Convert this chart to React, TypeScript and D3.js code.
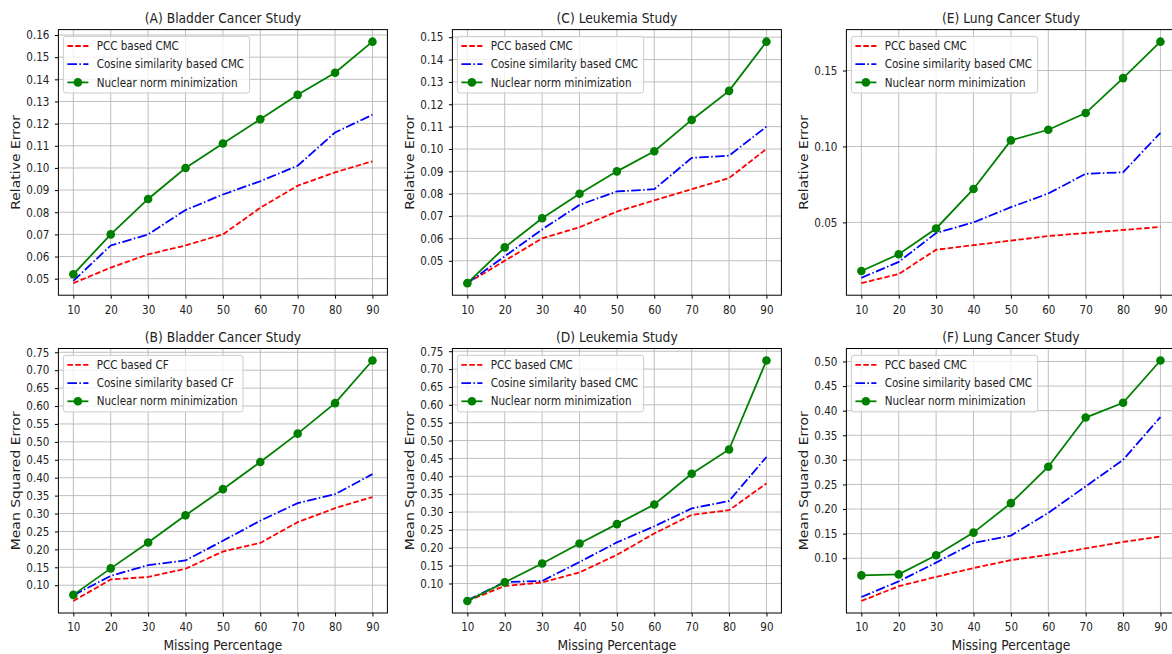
import React, { useEffect, useRef } from "react";
import * as d3 from "d3";

// x values shared by all six panels
const MISSING_PCT = [10, 20, 30, 40, 50, 60, 70, 80, 90];

// (A) Bladder cancer, relative error
const A_PCC = [0.048, 0.055, 0.061, 0.065, 0.07, 0.082, 0.092, 0.098, 0.103];
const A_COS = [0.049, 0.065, 0.07, 0.081, 0.088, 0.094, 0.101, 0.116, 0.124];
const A_NNM = [0.052, 0.07, 0.086, 0.1, 0.111, 0.122, 0.133, 0.143, 0.157];

// (C) Leukemia, relative error
const C_PCC = [0.04, 0.05, 0.06, 0.065, 0.072, 0.077, 0.082, 0.087, 0.1];
const C_COS = [0.04, 0.052, 0.064, 0.075, 0.081, 0.082, 0.096, 0.097, 0.11];
const C_NNM = [0.04, 0.056, 0.069, 0.08, 0.09, 0.099, 0.113, 0.126, 0.148];

// (E) Lung cancer, relative error
const E_PCC = [0.01, 0.016, 0.032, 0.035, 0.038, 0.041, 0.043, 0.045, 0.047];
const E_COS = [0.0135, 0.024, 0.043, 0.05, 0.06, 0.069, 0.082, 0.083, 0.109];
const E_NNM = [0.018, 0.029, 0.046, 0.072, 0.104, 0.111, 0.122, 0.145, 0.169];

// (B) Bladder cancer, mean squared error
const B_PCC = [0.056, 0.116, 0.123, 0.146, 0.194, 0.218, 0.276, 0.315, 0.346];
const B_COS = [0.072, 0.126, 0.156, 0.169, 0.224, 0.28, 0.329, 0.354, 0.41];
const B_NNM = [0.073, 0.147, 0.219, 0.295, 0.368, 0.444, 0.523, 0.608, 0.727];

// (D) Leukemia, mean squared error
const D_PCC = [0.051, 0.093, 0.103, 0.131, 0.18, 0.24, 0.292, 0.305, 0.38];
const D_COS = [0.053, 0.104, 0.107, 0.16, 0.215, 0.26, 0.31, 0.331, 0.454];
const D_NNM = [0.051, 0.103, 0.156, 0.212, 0.266, 0.321, 0.407, 0.475, 0.724];

// (F) Lung cancer, mean squared error
const F_PCC = [0.013, 0.043, 0.062, 0.08, 0.096, 0.107, 0.12, 0.133, 0.144];
const F_COS = [0.021, 0.053, 0.091, 0.131, 0.146, 0.192, 0.246, 0.3, 0.387];
const F_NNM = [0.065, 0.067, 0.106, 0.152, 0.212, 0.286, 0.386, 0.416, 0.502];

// y tick labels
const TICKS_A = [0.05, 0.06, 0.07, 0.08, 0.09, 0.1, 0.11, 0.12, 0.13, 0.14, 0.15, 0.16];
const TICKS_C = [0.05, 0.06, 0.07, 0.08, 0.09, 0.1, 0.11, 0.12, 0.13, 0.14, 0.15];
const TICKS_E = [0.05, 0.1, 0.15];
const TICKS_MSE = [0.1, 0.15, 0.2, 0.25, 0.3, 0.35, 0.4, 0.45, 0.5, 0.55, 0.6, 0.65, 0.7, 0.75];
const TICKS_F = [0.1, 0.15, 0.2, 0.25, 0.3, 0.35, 0.4, 0.45, 0.5];

const LEGEND_CMC = ["PCC based CMC", "Cosine similarity based CMC", "Nuclear norm minimization"];
const LEGEND_CF = ["PCC based CF", "Cosine similarity based CF", "Nuclear norm minimization"];

const PANELS = [
  { title: "(A) Bladder Cancer Study", row: 0, col: 0, ylabel: "Relative Error", ticks: TICKS_A, legend: LEGEND_CMC, series: [A_PCC, A_COS, A_NNM] },
  { title: "(C) Leukemia Study", row: 0, col: 1, ylabel: "Relative Error", ticks: TICKS_C, legend: LEGEND_CMC, series: [C_PCC, C_COS, C_NNM] },
  { title: "(E) Lung Cancer Study", row: 0, col: 2, ylabel: "Relative Error", ticks: TICKS_E, legend: LEGEND_CMC, series: [E_PCC, E_COS, E_NNM] },
  { title: "(B) Bladder Cancer Study", row: 1, col: 0, ylabel: "Mean Squared Error", ticks: TICKS_MSE, legend: LEGEND_CF, series: [B_PCC, B_COS, B_NNM] },
  { title: "(D) Leukemia Study", row: 1, col: 1, ylabel: "Mean Squared Error", ticks: TICKS_MSE, legend: LEGEND_CMC, series: [D_PCC, D_COS, D_NNM] },
  { title: "(F) Lung Cancer Study", row: 1, col: 2, ylabel: "Mean Squared Error", ticks: TICKS_F, legend: LEGEND_CMC, series: [F_PCC, F_COS, F_NNM] },
];

const STYLES = [
  { color: "#ff0000", dash: "5.5,2.4", marker: false },
  { color: "#0000ff", dash: "9.6,2.4,1.5,2.4", marker: false },
  { color: "#008000", dash: null, marker: true },
];

// layout
const AX_LEFT = [58.4, 452.4, 846.4];
const AX_W = 329;
const ROW_TOP = [29.6, 348.5];
const AX_H = [265.6, 264.5];
const FONT = "DejaVu Sans";
const SX = 0.88; // the source image is squeezed horizontally
const TEXT = "#222";

// matplotlib style 5% autoscale margin
const padded = (vals: number[]) => {
  const [lo, hi] = d3.extent(vals) as [number, number];
  const m = (hi - lo) * 0.05;
  return [lo - m, hi + m];
};

const drawPanel = (svg: any, p: any) => {
  const left = AX_LEFT[p.col];
  const top = ROW_TOP[p.row];
  const w = AX_W;
  const h = AX_H[p.row];

  const g = svg.append("g").attr("transform", `translate(${left},${top})`);

  const x = d3.scaleLinear().domain(padded(MISSING_PCT)).range([0, w]);
  const y = d3.scaleLinear().domain(padded(p.series.flat())).range([h, 0]);

  // grid
  const grid = g.append("g").attr("stroke", "#b8b8b8").attr("stroke-width", 0.9);
  grid
    .selectAll("line.vx")
    .data(MISSING_PCT)
    .join("line")
    .attr("x1", (d) => x(d))
    .attr("x2", (d) => x(d))
    .attr("y1", 0)
    .attr("y2", h);
  grid
    .selectAll("line.hy")
    .data(p.ticks)
    .join("line")
    .attr("x1", 0)
    .attr("x2", w)
    .attr("y1", (d) => y(d))
    .attr("y2", (d) => y(d));

  // series
  const line = d3
    .line<number>()
    .x((_, i) => x(MISSING_PCT[i]))
    .y((d) => y(d));

  p.series.forEach((vals: number[], i: number) => {
    const s = STYLES[i];
    g.append("path")
      .datum(vals)
      .attr("d", line)
      .attr("fill", "none")
      .attr("stroke", s.color)
      .attr("stroke-width", 1.8)
      .attr("stroke-dasharray", s.dash);
    if (s.marker) {
      g.append("g")
        .selectAll("circle")
        .data(vals)
        .join("circle")
        .attr("cx", (_, j) => x(MISSING_PCT[j]))
        .attr("cy", (d) => y(d))
        .attr("r", 4.3)
        .attr("fill", s.color);
    }
  });

  // axes
  const yAxis = g
    .append("g")
    .call(d3.axisLeft(y).tickValues(p.ticks).tickFormat(d3.format(".2f")).tickSize(3.5).tickPadding(5.5));
  const xAxis = g
    .append("g")
    .attr("transform", `translate(0,${h})`)
    .call(d3.axisBottom(x).tickValues(MISSING_PCT).tickFormat(d3.format("d")).tickSize(3.5).tickPadding(6.5));

  [yAxis, xAxis].forEach((ax) => {
    ax.select(".domain").remove();
    ax.attr("font-family", FONT).attr("font-size", 11.8);
    ax.selectAll("line").attr("stroke", "#000").attr("stroke-width", 1);
    ax.selectAll("text").attr("fill", TEXT);
  });
  yAxis.selectAll("text").attr("x", -9 / SX).attr("transform", `scale(${SX},1)`);
  xAxis.selectAll("text").attr("transform", `scale(${SX},1)`);

  // frame
  g.append("rect")
    .attr("width", w)
    .attr("height", h)
    .attr("fill", "none")
    .attr("stroke", "#000")
    .attr("stroke-width", 1);

  // legend
  const lg = g.append("g").attr("transform", "translate(5,6.8)");
  const box = lg
    .append("rect")
    .attr("height", 56.6)
    .attr("rx", 2.5)
    .attr("fill", "#fff")
    .attr("fill-opacity", 0.8)
    .attr("stroke", "#cccccc")
    .attr("stroke-width", 1);
  const rowY = [9.6, 27.8, 46];
  let maxW = 0;
  p.legend.forEach((label: string, i: number) => {
    const s = STYLES[i];
    lg.append("line")
      .attr("x1", 4)
      .attr("x2", 25)
      .attr("y1", rowY[i])
      .attr("y2", rowY[i])
      .attr("stroke", s.color)
      .attr("stroke-width", 1.8)
      .attr("stroke-dasharray", s.dash);
    if (s.marker) {
      lg.append("circle").attr("cx", 14.5).attr("cy", rowY[i]).attr("r", 4.3).attr("fill", s.color);
    }
    const t = lg
      .append("text")
      .attr("transform", `translate(33.3,${rowY[i]}) scale(${SX},1)`)
      .attr("dy", "0.35em")
      .attr("font-family", FONT)
      .attr("font-size", 11.8)
      .attr("fill", TEXT)
      .text(label);
    maxW = Math.max(maxW, (t.node() as SVGTextElement).getComputedTextLength() * SX);
  });
  box.attr("width", 33.3 + maxW + 5.5);

  // title
  g.append("text")
    .attr("transform", `translate(${w / 2},-7) scale(${SX},1)`)
    .attr("text-anchor", "middle")
    .attr("font-family", FONT)
    .attr("font-size", 14)
    .attr("fill", TEXT)
    .text(p.title);

  // y label
  g.append("text")
    .attr("transform", `translate(-42.7,${h / 2}) scale(${SX},1) rotate(-90)`)
    .attr("text-anchor", "middle")
    .attr("dy", "0.36em")
    .attr("font-family", FONT)
    .attr("font-size", 14)
    .attr("fill", TEXT)
    .text(p.ylabel);

  // x label, bottom row only
  if (p.row === 1) {
    g.append("text")
      .attr("transform", `translate(${w / 2},${650 - top}) scale(${SX},1)`)
      .attr("text-anchor", "middle")
      .attr("font-family", FONT)
      .attr("font-size", 14)
      .attr("fill", TEXT)
      .text("Missing Percentage");
  }
};

const App = () => {
  const svgRef = useRef<SVGSVGElement>(null);

  useEffect(() => {
    const svg = d3.select(svgRef.current);
    svg.selectAll("*").remove();
    PANELS.forEach((p) => drawPanel(svg, p));
  }, []);

  return (
    <svg
      ref={svgRef}
      width={1172}
      height={654}
      style={{ position: "absolute", left: 0, top: 0, background: "#fff" }}
    />
  );
};

export default App;
